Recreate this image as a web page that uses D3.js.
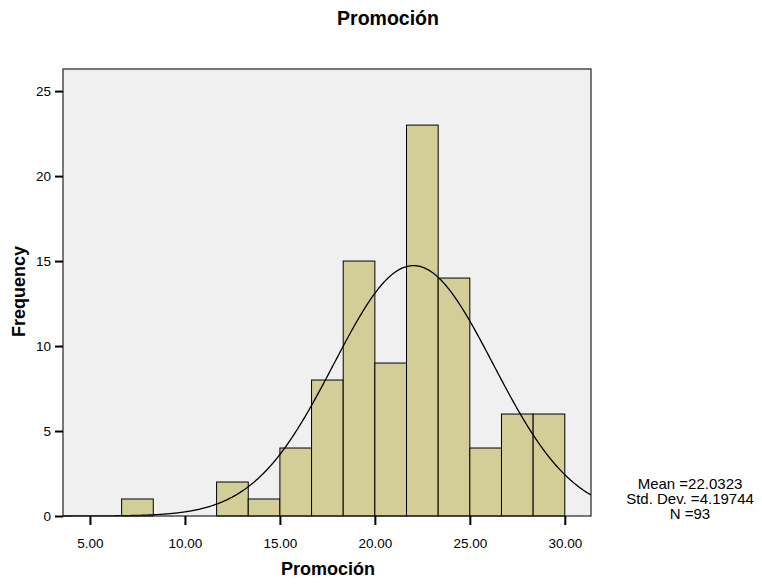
<!DOCTYPE html>
<html>
<head>
<meta charset="utf-8">
<script src="https://cdn.jsdelivr.net/npm/d3@7"></script>
<style>
  body { margin: 0; background: #fff; }
  text { font-family: "Liberation Sans", Arial, sans-serif; fill: #000; }
</style>
</head>
<body>
<div id="chart"></div>
<script>
// histogram bins (lower edge) and counts
const binStarts = [6.6667, 8.3333, 10, 11.6667, 13.3333, 15, 16.6667, 18.3333, 20, 21.6667, 23.3333, 25, 26.6667, 28.3333];
const binWidth = 5 / 3;
const counts = [1, 0, 0, 2, 1, 4, 8, 15, 9, 23, 14, 4, 6, 6];
const xTicks = [5, 10, 15, 20, 25, 30];
const yTicks = [0, 5, 10, 15, 20, 25];
const mean = 22.0323, sd = 4.19744, n = 93;

const width = 762, height = 585;
const margin = { left: 63, top: 69, right: 171, bottom: 69 };

const svg = d3.select('#chart').append('svg')
    .attr('width', width)
    .attr('height', height);

const x = d3.scaleLinear().domain([3.58, 31.38]).range([margin.left, width - margin.right]);
const y = d3.scaleLinear().domain([0, 26.3]).range([height - margin.bottom, margin.top]);

// plot background
svg.append('rect')
    .attr('x', margin.left).attr('y', margin.top)
    .attr('width', x.range()[1] - margin.left)
    .attr('height', y(0) - margin.top)
    .attr('fill', '#f0f0f0');

// bars
svg.selectAll('.bar')
    .data(counts.map((c, i) => ({ x0: binStarts[i], c })).filter(d => d.c > 0))
    .enter().append('rect')
    .attr('class', 'bar')
    .attr('x', d => x(d.x0))
    .attr('y', d => y(d.c))
    .attr('width', d => x(d.x0 + binWidth) - x(d.x0))
    .attr('height', d => y(0) - y(d.c))
    .attr('fill', '#d3ce98')
    .attr('stroke', '#000')
    .attr('stroke-width', 1);

// normal curve
const pdf = v => Math.exp(-0.5 * ((v - mean) / sd) ** 2) / (sd * Math.sqrt(2 * Math.PI));
const curveXs = d3.range(x.domain()[0], x.domain()[1] + 0.001, 0.05);
svg.append('path')
    .datum(curveXs)
    .attr('d', d3.line().x(v => x(v)).y(v => y(n * binWidth * pdf(v))))
    .attr('fill', 'none')
    .attr('stroke', '#000')
    .attr('stroke-width', 1.3);

// frame
svg.append('rect')
    .attr('x', margin.left).attr('y', margin.top)
    .attr('width', x.range()[1] - margin.left)
    .attr('height', y(0) - margin.top)
    .attr('fill', 'none')
    .attr('stroke', '#222')
    .attr('stroke-width', 1.2);

// axes
const xAxis = svg.append('g')
    .attr('transform', `translate(0,${y(0)})`)
    .call(d3.axisBottom(x).tickValues(xTicks).tickFormat(d3.format('.2f')).tickSize(9).tickPadding(13));
const yAxis = svg.append('g')
    .attr('transform', `translate(${margin.left},0)`)
    .call(d3.axisLeft(y).tickValues(yTicks).tickSize(8).tickPadding(4));

[xAxis, yAxis].forEach(g => {
    g.select('.domain').remove();
    g.selectAll('line').attr('stroke', '#000').attr('stroke-width', 2);
    g.selectAll('text').style('font-size', '13.5px').style('font-family', '"Liberation Sans", Arial, sans-serif');
});

// titles
svg.append('text')
    .attr('x', 388).attr('y', 25)
    .attr('text-anchor', 'middle')
    .style('font-size', '19.5px').style('font-weight', 'bold')
    .text('Promoción');

svg.append('text')
    .attr('x', 328).attr('y', 575)
    .attr('text-anchor', 'middle')
    .style('font-size', '18px').style('font-weight', 'bold')
    .text('Promoción');

svg.append('text')
    .attr('transform', 'translate(25,291.5) rotate(-90)')
    .attr('text-anchor', 'middle')
    .style('font-size', '18px').style('font-weight', 'bold')
    .text('Frequency');

// stats box
const stats = ['Mean =22.0323', 'Std. Dev. =4.19744', 'N =93'];
svg.append('g').selectAll('text')
    .data(stats)
    .enter().append('text')
    .attr('x', 690)
    .attr('y', (d, i) => 489 + i * 15)
    .attr('text-anchor', 'middle')
    .style('font-size', '15px')
    .text(d => d);
</script>
</body>
</html>
